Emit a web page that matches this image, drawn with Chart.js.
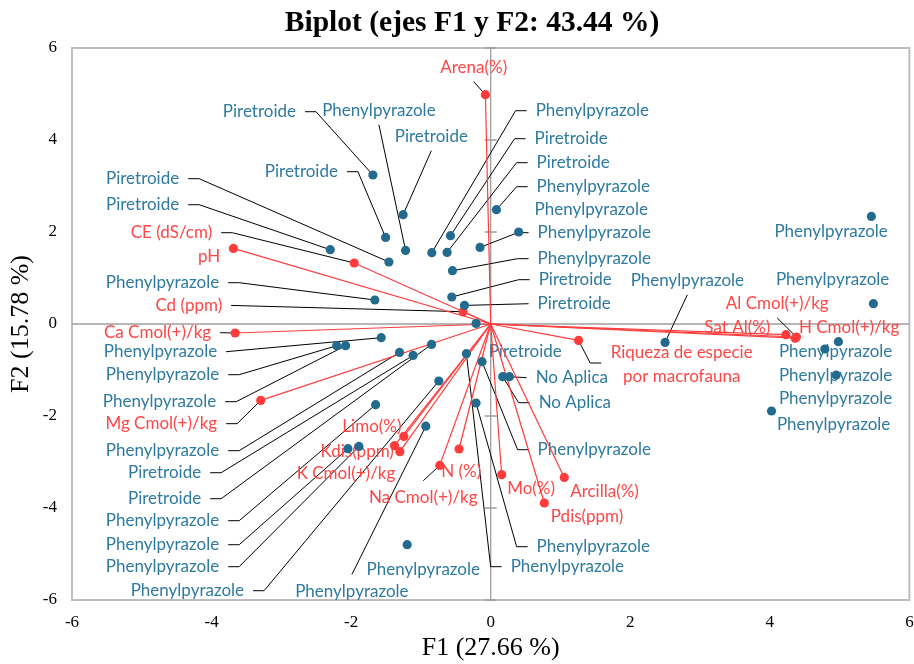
<!DOCTYPE html>
<html><head><meta charset="utf-8">
<script src="https://cdn.jsdelivr.net/npm/chart.js@4/dist/chart.umd.min.js"></script>
<style>html,body{margin:0;padding:0;background:#fff}#wrap{width:914px;height:664px}</style>
</head><body><div id="wrap"><canvas id="c" width="914" height="664"></canvas></div>
<script>
// ---------- DATA ----------
const obsNames = ["Piretroide","Phenylpyrazole","Piretroide","Piretroide","Piretroide","Piretroide","Phenylpyrazole",
  "Phenylpyrazole","Piretroide","Piretroide","Phenylpyrazole","Phenylpyrazole","Phenylpyrazole","Phenylpyrazole",
  "Piretroide","Piretroide","Piretroide","Phenylpyrazole","Phenylpyrazole","Phenylpyrazole","Phenylpyrazole",
  "Piretroide","Piretroide","Phenylpyrazole","Phenylpyrazole","Phenylpyrazole","Phenylpyrazole","Phenylpyrazole",
  "Phenylpyrazole","No Aplica","No Aplica","Phenylpyrazole","Phenylpyrazole","Phenylpyrazole","Phenylpyrazole",
  "Phenylpyrazole","Phenylpyrazole","Phenylpyrazole","Phenylpyrazole","Phenylpyrazole","Phenylpyrazole"];
const obsF1 = [-1.688,-1.220,-1.255,-1.506,-1.459,-2.299,-1.660,-0.844,-0.577,-0.625,0.082,0.401,-0.153,-0.548,
  -0.558,-0.376,-0.210,-1.569,-2.207,-2.079,-1.306,-1.112,-0.848,-1.649,-2.046,-1.888,-0.744,-0.930,-1.197,
  0.268,0.172,-0.124,-0.210,-0.348,2.499,5.455,5.484,4.983,4.950,4.788,4.024];
const obsF2 = [3.239,1.600,2.376,1.883,1.348,1.615,0.522,1.550,1.920,1.557,2.485,2.000,1.665,1.159,
  0.587,0.404,0.013,-0.298,-0.472,-0.472,-0.617,-0.683,-0.443,-1.754,-2.711,-2.661,-1.239,-2.222,-4.798,
  -1.146,-1.146,-0.820,-1.717,-0.646,-0.400,2.339,0.441,-0.385,-1.109,-0.543,-1.891];

const varNames = ["Arena(%)","CE (dS/cm)","pH","Cd (ppm)","Ca Cmol(+)/kg","Mg Cmol(+)/kg","Limo(%)","Kdis(ppm)",
  "K Cmol(+)/kg","Na Cmol(+)/kg","N (%)","Mo(%)","Pdis(ppm)","Arcilla(%)","Riqueza de especie\npor macrofauna",
  "Al Cmol(+)/kg","Sat Al(%)","H Cmol(+)/kg"];
const varF1 = [-0.076,-1.956,-3.687,-0.396,-3.662,-3.295,-1.245,-1.378,-1.302,-0.730,-0.454,0.157,0.768,1.054,1.259,4.382,4.230,4.363];
const varF2 = [4.985,1.326,1.643,0.267,-0.196,-1.661,-2.443,-2.646,-2.776,-3.074,-2.717,-3.276,-3.891,-3.335,-0.357,-0.283,-0.233,-0.309];

const xTicks = [-6,-4,-2,0,2,4,6];
const yTicks = [-6,-4,-2,0,2,4,6];
const chartTitle = 'Biplot (ejes F1 y F2: 43.44 %)';

// ---------- LABEL LAYOUT (in axis units) ----------
const obsLabelPos = [
 [-2.790,4.615,'right','R'],[-1.602,4.637,'center','B'],[-0.851,4.072,'center','B'],[-2.189,3.311,'right','R'],
 [-4.464,3.159,'right','R'],[-4.464,2.593,'right','R'],[-3.891,0.898,'right','R'],[0.644,4.637,'left','L'],
 [0.629,4.028,'left','L'],[0.658,3.507,'left','L'],[0.658,2.985,'left','L'],[0.629,2.485,'left',null],
 [0.672,1.985,'left','L'],[0.672,1.420,'left','L'],[0.687,0.963,'left','L'],[0.672,0.441,'left','Ls'],
 [-0.029,-0.602,'left',null],[-3.920,-0.602,'right','Rs'],[-3.891,-1.102,'right','R'],[-3.934,-1.689,'right','R'],
 [-3.891,-2.754,'right','R'],[-4.149,-3.233,'right','R'],[-4.149,-3.798,'right','R'],[-3.891,-4.276,'right','R'],
 [-3.891,-4.798,'right','R'],[-3.891,-5.276,'right','R'],[-3.534,-5.798,'right','R'],[-1.989,-5.813,'center','T'],
 [-0.966,-5.341,'center',null],[0.644,-1.167,'left','Ls'],[0.687,-1.711,'left','L'],[0.672,-2.733,'left','L'],
 [0.658,-4.841,'left','L'],[0.286,-5.276,'left','L'],[2.818,0.941,'center','B'],[4.878,2.007,'center',null],
 [4.900,0.963,'center',null],[4.943,-0.602,'center',null],[4.943,-1.124,'center',null],[4.943,-1.624,'center',null],
 [4.914,-2.189,'center',null]
];
const varLabelPos = [
 [-0.243,5.572,'center','B'],[-3.991,1.985,'right','R'],[-3.877,1.463,'right',null],[-3.848,0.404,'right','Rs'],
 [-4.006,-0.189,'right','Rs'],[-3.920,-2.167,'right','R'],[-1.702,-2.233,'center',null],[-1.913,-2.776,'center',null],
 [-2.074,-3.243,'center',null],[-0.966,-3.776,'center','T'],[-0.422,-3.211,'center',null],[0.579,-3.580,'center',null],
 [1.381,-4.189,'center',null],[1.631,-3.635,'center',null],[2.737,-0.885,'center',[[1.584,-0.848],[1.426,-0.848]]],
 [4.106,0.435,'center','B'],[3.534,-0.074,'center',null],[5.136,-0.074,'center',null]
];

// ---------- STYLE ----------
const BLUE_PT = '#236B8E', BLUE_TXT = '#2E7AA0', RED = '#FF3B3B', RED_TXT = '#FF4646';
const LABEL_FONT = '17px Lato';
const SERIF = "'Liberation Serif', 'Times New Roman', serif";

const vectorDatasets = varNames.map((n, i) => ({
  type: 'scatter', label: n, showLine: true, order: 3,
  data: [{x: 0, y: 0}, {x: varF1[i], y: varF2[i]}],
  borderColor: RED, borderWidth: 1.2, pointRadius: 0, fill: false
}));

const labelPlugin = {
  id: 'labels',
  beforeDatasetsDraw(chart) {
    const ctx = chart.ctx, xs = chart.scales.x, ys = chart.scales.y, ca = chart.chartArea;
    ctx.save();
    // title (centred as in the reference)
    ctx.fillStyle = '#000'; ctx.font = "bold 29.5px " + SERIF;
    ctx.textAlign = 'center'; ctx.textBaseline = 'middle';
    ctx.fillText(chartTitle, 472, 23);
    // frame
    ctx.strokeStyle = '#BFBFBF'; ctx.lineWidth = 2;
    ctx.strokeRect(ca.left, ca.top, ca.right - ca.left, ca.bottom - ca.top);
    // zero axes
    const x0 = xs.getPixelForValue(0), y0 = ys.getPixelForValue(0);
    ctx.strokeStyle = '#9E9E9E'; ctx.lineWidth = 1.3;
    ctx.beginPath(); ctx.moveTo(ca.left, y0); ctx.lineTo(ca.right, y0);
    ctx.moveTo(x0, ca.top); ctx.lineTo(x0, ca.bottom); ctx.stroke();
    ctx.beginPath();
    yTicks.forEach(v => { if (v !== 0) { const p = ys.getPixelForValue(v); ctx.moveTo(x0 - 6, p); ctx.lineTo(x0 + 6, p); } });
    ctx.stroke();

    const draw = (text, pos, fx, fy, color) => {
      const [lx, ly, align, leader] = pos;
      const X = xs.getPixelForValue(lx), Y = ys.getPixelForValue(ly);
      const px = xs.getPixelForValue(fx), py = ys.getPixelForValue(fy);
      ctx.font = LABEL_FONT;
      const lines = text.split('\n');
      const w = Math.max(...lines.map(l => ctx.measureText(l).width));
      const leftE = align === 'left' ? X : align === 'right' ? X - w : X - w / 2;
      const rightE = leftE + w;
      let path = null;
      if (leader === 'R') path = [[rightE + 9, Y], [rightE + 20, Y]];
      else if (leader === 'Rs') path = [[rightE + 9, Y]];
      else if (leader === 'L') path = [[leftE - 9, Y], [leftE - 20, Y]];
      else if (leader === 'Ls') path = [[leftE - 9, Y]];
      else if (leader === 'B') path = [[X, Y + 14]];
      else if (leader === 'T') path = [[X, Y - 17]];
      else if (Array.isArray(leader)) path = leader.map(p => [xs.getPixelForValue(p[0]), ys.getPixelForValue(p[1])]);
      if (path) {
        ctx.strokeStyle = '#000'; ctx.lineWidth = 1;
        ctx.beginPath(); ctx.moveTo(path[0][0], path[0][1]);
        for (let k = 1; k < path.length; k++) ctx.lineTo(path[k][0], path[k][1]);
        ctx.lineTo(px, py); ctx.stroke();
      }
      ctx.fillStyle = color; ctx.textAlign = align; ctx.textBaseline = 'middle';
      const lh = 23.4;
      lines.forEach((l, k) => ctx.fillText(l, X, Y + (k - (lines.length - 1) / 2) * lh));
    };
    obsNames.forEach((n, i) => draw(n, obsLabelPos[i], obsF1[i], obsF2[i], BLUE_TXT));
    varNames.forEach((n, i) => draw(n, varLabelPos[i], varF1[i], varF2[i], RED_TXT));
    ctx.restore();
  }
};

const noPad = s => { s.paddingLeft = 0; s.paddingRight = 0; s.paddingTop = 0; s.paddingBottom = 0; };

new Chart(document.getElementById('c'), {
  type: 'scatter',
  data: {
    datasets: [
      { label: 'Observaciones', order: 1, data: obsF1.map((v, i) => ({x: v, y: obsF2[i]})),
        backgroundColor: BLUE_PT, borderWidth: 0, pointRadius: 4.6 },
      { label: 'Variables', order: 2, data: varF1.map((v, i) => ({x: v, y: varF2[i]})),
        backgroundColor: RED, borderWidth: 0, pointRadius: 4.6 },
      ...vectorDatasets
    ]
  },
  options: {
    responsive: false, animation: false, devicePixelRatio: 1,
    layout: { padding: { left: 0, right: 2, top: 48, bottom: 0 } },
    plugins: {
      legend: { display: false }, tooltip: { enabled: false }, title: { display: false }
    },
    scales: {
      x: { type: 'linear', min: -6, max: 6,
        afterBuildTicks: s => { s.ticks = xTicks.map(v => ({value: v})); },
        afterFit: s => { s.height = 64; noPad(s); },
        grid: { display: false, drawTicks: false }, border: { display: false },
        ticks: { color: '#000', font: { family: SERIF, size: 17 }, padding: 12, maxRotation: 0 },
        title: { display: true, text: 'F1 (27.66 %)', color: '#000', font: { family: SERIF, size: 26 }, padding: { top: 0, bottom: 0 } }
      },
      y: { type: 'linear', min: -6, max: 6,
        afterBuildTicks: s => { s.ticks = yTicks.map(v => ({value: v})); },
        afterFit: s => { s.width = 72; noPad(s); },
        grid: { display: false, drawTicks: false }, border: { display: false },
        ticks: { color: '#000', font: { family: SERIF, size: 17 }, padding: 15 },
        title: { display: true, text: 'F2 (15.78 %)', color: '#000', font: { family: SERIF, size: 26 }, padding: { top: 6, bottom: 0 } }
      }
    }
  },
  plugins: [labelPlugin]
});
</script></body></html>
